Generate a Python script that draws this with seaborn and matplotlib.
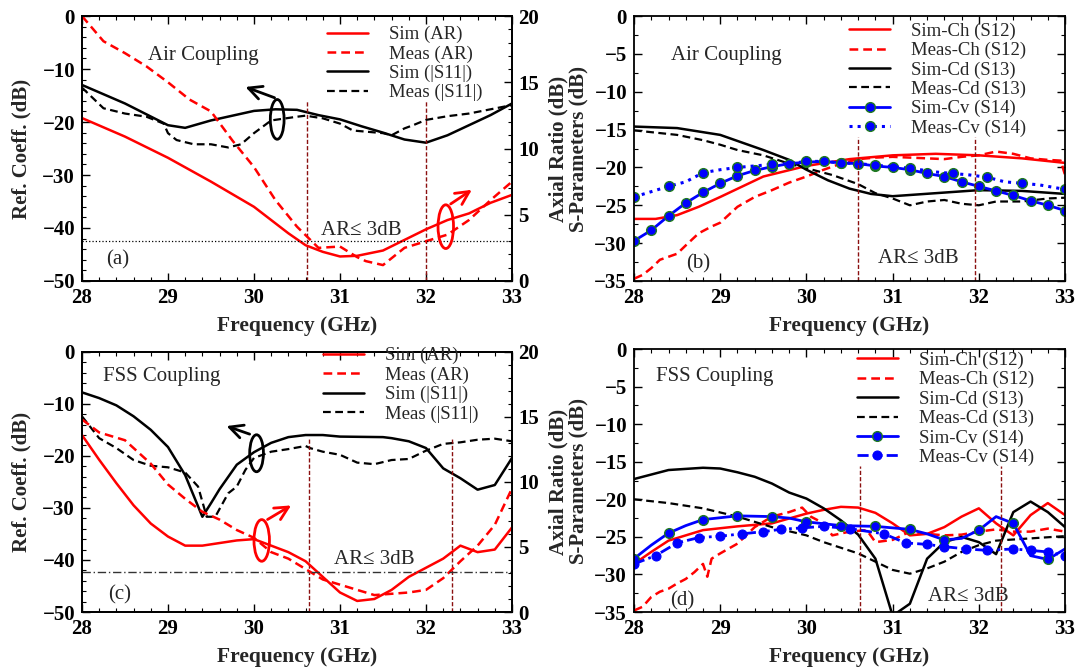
import matplotlib
matplotlib.use("Agg")
import matplotlib.pyplot as plt
from matplotlib.patches import Ellipse
from matplotlib.ticker import MultipleLocator
import seaborn as sns

# ---------------- panel (a): air coupling, |S11| (left) and AR (right)
a_sim_ar_f = [28, 28.5, 29, 29.5, 30, 30.2, 30.4, 30.6, 30.8, 31, 31.2, 31.5, 31.75, 32, 32.25, 32.5, 32.75, 33]
a_sim_ar = [12.3, 10.9, 9.3, 7.5, 5.6, 4.6, 3.6, 2.7, 2.2, 1.85, 1.9, 2.3, 3.1, 3.9, 4.6, 5.1, 5.9, 6.5]
a_meas_ar_f = [28, 28.25, 28.5, 28.75, 29, 29.25, 29.5, 29.75, 30, 30.25, 30.5, 30.75, 31, 31.2, 31.3,
               31.5, 31.75, 32, 32.25, 32.5, 32.75, 33]
a_meas_ar = [20, 18.1, 17.2, 16.2, 15, 13.7, 12.8, 10.6, 8.6, 6.1, 4.1, 2.5, 2.6, 1.8, 1.5,
             1.2, 2.5, 3.0, 3.5, 4.6, 6.1, 7.5]
a_sim_s11_f = [28, 28.5, 29, 29.2, 29.5, 30, 30.25, 30.5, 30.75, 31, 31.25, 31.5, 31.75, 32, 32.25, 32.5, 32.75, 33]
a_sim_s11 = [-13.0, -16.5, -20.6, -21.1, -19.7, -17.9, -17.6, -17.7, -18.7, -19.5, -20.8, -22.0, -23.3, -23.9,
             -22.5, -20.6, -18.7, -16.5]
a_meas_s11_f = [28, 28.25, 28.5, 28.75, 28.95, 29.0, 29.1, 29.3, 29.5, 29.7, 29.85, 30, 30.2, 30.5, 30.6, 30.8,
                31, 31.15, 31.5, 31.6, 31.75, 31.85, 32, 32.25, 32.5, 32.75, 33]
a_meas_s11 = [-13.5, -17.4, -18.4, -19.0, -20.3, -22.1, -23.4, -24.2, -24.2, -24.8, -24.2, -22.1, -19.7, -19.0,
              -18.8, -19.3, -20.3, -21.6, -22.1, -22.5, -21.2, -20.6, -19.6, -18.9, -18.4, -17.6, -16.8]
a_band = [30.62, 32.0]

# ---------------- panel (b): air coupling, isolation
b_sim_ch_f = [28, 28.25, 28.5, 28.75, 29, 29.5, 30, 30.5, 31, 31.5, 32, 32.5, 33]
b_sim_ch = [-26.8, -26.8, -26.3, -25.2, -23.9, -21.2, -19.8, -18.9, -18.4, -18.2, -18.4, -18.8, -19.4]
b_meas_ch_f = [28, 28.1, 28.2, 28.3, 28.4, 28.5, 28.6, 28.75, 28.9, 29, 29.2, 29.4, 29.6, 29.8, 30, 30.2, 30.4,
               30.6, 30.8, 31, 31.2, 31.4, 31.6, 31.8, 32, 32.2, 32.4, 32.6, 32.8, 32.95, 33]
b_meas_ch = [-34.7, -34.2, -33.3, -32.2, -31.8, -31.4, -30.3, -28.7, -27.8, -27.3, -25.2, -23.9, -23.0, -22.0,
             -21.2, -20.3, -19.5, -18.9, -18.7, -18.6, -18.7, -18.8, -18.9, -18.6, -18.4, -17.9, -18.2, -18.8,
             -19.0, -19.1, -21.0]
b_sim_cd_f = [28, 28.5, 29, 29.5, 29.8, 30, 30.25, 30.5, 30.75, 31, 31.5, 32, 32.5, 33]
b_sim_cd = [-14.6, -14.8, -15.7, -17.7, -19.0, -20.3, -21.7, -22.8, -23.5, -23.8, -23.4, -23.0, -23.1, -23.5]
b_meas_cd_f = [28, 28.5, 28.8, 29, 29.2, 29.5, 29.8, 30, 30.3, 30.6, 30.8, 31, 31.2, 31.4, 31.6, 31.8, 32, 32.2,
               32.5, 32.8, 33]
b_meas_cd = [-15.1, -15.7, -16.4, -17.0, -17.7, -18.4, -19.5, -20.1, -21.0, -22.2, -23.4, -24.1, -25.0, -24.5,
             -24.3, -24.8, -25.0, -24.5, -24.5, -24.1, -24.0]
b_sim_cv_f = [28, 28.2, 28.4, 28.6, 28.8, 29.0, 29.2, 29.4, 29.6, 29.8, 30.0, 30.2, 30.4, 30.6, 30.8, 31.0,
              31.2, 31.4, 31.6, 31.8, 32.0, 32.2, 32.4, 32.6, 32.8, 33.0]
b_sim_cv = [-29.7, -28.3, -26.4, -24.7, -23.3, -22.1, -21.1, -20.4, -19.9, -19.5, -19.3, -19.2, -19.4, -19.5,
            -19.8, -20.0, -20.3, -20.8, -21.2, -21.9, -22.5, -23.1, -23.7, -24.4, -25.0, -25.7]
b_meas_cv_f = [28, 28.2, 28.4, 28.6, 28.8, 29.0, 29.2, 29.4, 29.6, 29.8, 30, 30.2, 30.4, 30.6, 30.8, 31.0, 31.2,
               31.5, 31.7, 31.9, 32.1, 32.3, 32.5, 32.7, 33]
b_meas_cv = [-23.9, -23.2, -22.5, -21.9, -20.7, -20.3, -20.0, -19.8, -19.6, -19.5, -19.2, -19.2, -19.4, -19.5,
             -19.7, -19.9, -20.1, -20.6, -20.8, -21.0, -21.3, -21.9, -22.1, -22.3, -22.9]
b_band = [30.6, 31.96]

# ---------------- panel (c): FSS coupling, |S11| and AR
c_sim_ar_f = [28, 28.2, 28.4, 28.6, 28.8, 29, 29.2, 29.4, 29.6, 29.8, 30, 30.2, 30.4, 30.6, 30.8, 31, 31.2,
              31.4, 31.6, 31.8, 32, 32.2, 32.4, 32.6, 32.8, 33]
c_sim_ar = [13.6, 11.7, 9.9, 8.2, 6.8, 5.8, 5.1, 5.1, 5.3, 5.5, 5.6, 5.1, 4.6, 3.9, 2.7, 1.5, 0.85, 1.0, 1.7,
            2.7, 3.4, 4.1, 5.1, 4.6, 4.8, 6.5]
c_meas_ar_f = [28, 28.2, 28.5, 28.8, 29, 29.2, 29.4, 29.6, 29.8, 30, 30.2, 30.4, 30.6, 30.8, 31, 31.2, 31.4,
               31.6, 31.8, 32, 32.2, 32.4, 32.6, 32.8, 33]
c_meas_ar = [14.8, 13.8, 13.2, 11.4, 9.8, 8.7, 7.7, 7.1, 6.3, 5.7, 4.6, 4.1, 3.3, 2.5, 2.1, 1.7, 1.3, 1.4, 1.5,
             1.7, 2.6, 3.9, 5.1, 6.7, 9.5]
c_sim_s11_f = [28, 28.2, 28.4, 28.6, 28.8, 29, 29.2, 29.4, 29.5, 29.6, 29.8, 30, 30.2, 30.4, 30.6, 30.8, 31,
               31.5, 31.6, 31.8, 32, 32.2, 32.4, 32.6, 32.8, 33]
c_sim_s11 = [-7.8, -8.9, -10.3, -12.4, -15.0, -18.3, -23.7, -31.7, -29.1, -26.4, -21.7, -19.3, -17.5, -16.4,
             -16.0, -16.0, -16.3, -16.4, -16.6, -17.2, -18.5, -22.4, -24.3, -26.5, -25.6, -20.4]
c_meas_s11_f = [28, 28.2, 28.4, 28.6, 28.8, 29, 29.2, 29.35, 29.45, 29.55, 29.7, 29.8, 29.9, 30, 30.2, 30.4,
                30.6, 30.65, 30.8, 31, 31.2, 31.4, 31.6, 31.8, 32, 32.2, 32.4, 32.6, 32.8, 33]
c_meas_s11 = [-12.4, -16.6, -18.5, -20.8, -21.9, -22.2, -23.2, -25.9, -31.7, -31.7, -27.2, -25.9, -22.7, -20.4,
              -19.2, -18.7, -18.1, -18.5, -19.2, -19.8, -21.3, -21.6, -20.8, -20.6, -19.0, -17.7, -17.4, -16.9,
              -16.7, -17.2]
c_band = [30.64, 32.3]

# ---------------- panel (d): FSS coupling, isolation
d_sim_ch_f = [28, 28.2, 28.4, 28.8, 29.2, 29.6, 30, 30.2, 30.4, 30.6, 30.8, 31, 31.2, 31.4, 31.6, 31.8, 32,
              32.2, 32.4, 32.6, 32.8, 33]
d_sim_ch = [-28.6, -27.0, -25.5, -24.1, -23.6, -23.2, -21.9, -21.4, -21.0, -21.1, -21.8, -23.2, -24.8, -24.6,
            -23.7, -22.3, -21.2, -23.2, -24.8, -22.1, -20.5, -22.1]
d_meas_ch_f = [28, 28.1, 28.2, 28.3, 28.4, 28.5, 28.6, 28.7, 28.8, 28.85, 28.9, 29, 29.2, 29.4, 29.6, 29.8,
               29.95, 30.05, 30.2, 30.3, 30.5, 30.7, 30.8, 31, 31.2, 31.4, 31.6, 31.8, 32, 32.2, 32.4, 32.6,
               32.8, 33]
d_meas_ch = [-34.8, -34.3, -33.0, -32.3, -31.9, -31.2, -30.6, -29.7, -28.6, -30.3, -27.9, -27.2, -25.9, -23.7,
             -22.3, -21.7, -21.1, -22.3, -23.2, -24.8, -24.3, -24.1, -25.7, -25.4, -24.3, -24.6, -24.8, -24.7,
             -24.3, -24.0, -24.3, -24.3, -23.9, -24.3]
d_sim_cd_f = [28, 28.4, 28.8, 29, 29.2, 29.4, 29.6, 29.8, 30, 30.2, 30.4, 30.6, 30.8, 31, 31.2, 31.4, 31.6,
              31.8, 32, 32.2, 32.4, 32.6, 32.8, 33]
d_sim_cd = [-17.3, -16.1, -15.8, -15.9, -16.4, -17.0, -17.9, -19.1, -19.9, -21.2, -22.8, -24.7, -27.9, -35.5,
            -33.9, -27.9, -25.7, -25.0, -25.7, -27.3, -21.7, -20.3, -21.7, -23.7]
d_meas_cd_f = [28, 28.4, 28.8, 29.2, 29.6, 30, 30.2, 30.6, 30.8, 31, 31.2, 31.4, 31.6, 31.8, 32, 32.2, 32.6, 33]
d_meas_cd = [-20.0, -20.5, -21.2, -22.3, -23.7, -24.8, -25.7, -27.2, -28.3, -29.4, -29.9, -29.2, -28.3, -27.0,
             -26.1, -25.5, -25.2, -24.9]
d_sim_cv_f = [28, 28.2, 28.4, 28.6, 28.8, 29.2, 29.6, 29.8, 30, 30.4, 30.8, 31.2, 31.4, 31.6, 31.8, 32, 32.2,
              32.4, 32.6, 32.8, 33]
d_sim_cv = [-27.9, -26.1, -24.5, -23.5, -22.7, -22.2, -22.3, -22.5, -23.0, -23.5, -23.6, -24.0, -24.6, -25.4,
            -25.2, -24.1, -22.3, -23.2, -27.5, -28.0, -26.6]
d_meas_cv_f = [28, 28.25, 28.5, 28.75, 29, 29.25, 29.5, 29.7, 29.95, 30.2, 30.5, 30.9, 31.15, 31.4, 31.6, 31.85,
               32.1, 32.4, 32.6, 32.8, 33]
d_meas_cv = [-28.6, -27.5, -25.8, -25.1, -24.9, -24.6, -24.3, -24.0, -23.8, -23.6, -23.9, -24.6, -25.8, -26.0,
             -26.3, -26.6, -26.8, -26.6, -26.8, -27.0, -27.5]
d_band = [30.62, 32.26]

sns.set_theme(style="ticks")
plt.rcParams["font.family"] = ["Liberation Serif", "DejaVu Serif"]
plt.rcParams["axes.linewidth"] = 1.3
plt.rcParams["axes.edgecolor"] = "black"

RED, BLUE, DARKRED = "#ff0000", "#0000ff", "#8b1010"
MEDGE = "#1f7a1f"
TICK_FS, LAB_FS, TXT_FS = 15, 15, 15

fig = plt.figure(figsize=(10.77, 6.69), dpi=100)
ax_a = fig.add_axes([0.0761, 0.580, 0.3993, 0.396])
ax_b = fig.add_axes([0.5887, 0.580, 0.4002, 0.396])
ax_c = fig.add_axes([0.0761, 0.0852, 0.3993, 0.3890])
ax_d = fig.add_axes([0.5887, 0.0852, 0.4002, 0.3930])


def style(ax, ylo, major, minor, right=True):
    ax.set_xlim(28, 33)
    ax.set_ylim(ylo, 0)
    ax.xaxis.set_major_locator(MultipleLocator(1))
    ax.xaxis.set_minor_locator(MultipleLocator(0.2))
    ax.yaxis.set_major_locator(MultipleLocator(major))
    ax.yaxis.set_minor_locator(MultipleLocator(minor))
    ax.tick_params(which="both", direction="in", top=True, right=right, colors="black", labelsize=TICK_FS)
    ax.tick_params(axis="x", pad=5)
    ax.tick_params(axis="y", pad=5)
    ax.tick_params(which="major", length=6, width=1)
    ax.tick_params(which="minor", length=3, width=0.8)
    for lbl in ax.get_xticklabels() + ax.get_yticklabels():
        lbl.set_fontweight("bold")
    ax.set_xlabel("Frequency (GHz)", fontsize=LAB_FS + 0.5, fontweight="bold", labelpad=6)
    for s in ax.spines.values():
        s.set_visible(True)


def ar_axis(ax):
    tw = ax.twinx()
    tw.set_ylim(0, 20)
    tw.yaxis.set_major_locator(MultipleLocator(5))
    tw.yaxis.set_minor_locator(MultipleLocator(1))
    tw.tick_params(which="both", direction="in", labelsize=TICK_FS, colors="black", pad=4.5)
    tw.tick_params(which="major", length=6, width=1)
    tw.tick_params(which="minor", length=3, width=0.8)
    for lbl in tw.get_yticklabels():
        lbl.set_fontweight("bold")
    tw.set_ylabel("Axial Ratio (dB)", fontsize=LAB_FS, fontweight="bold", labelpad=7)
    return tw


def line(ax, f, v, label, color, ls, lw=1.8, **kw):
    sns.lineplot(x=f, y=v, ax=ax, color=color, linestyle=ls, linewidth=lw, label=label,
                 legend=False, sort=False, **kw)


def ring(ax, xy, w, h, color, start, end):
    ax.add_patch(Ellipse(xy, w, h, fill=False, edgecolor=color, lw=2, zorder=5))
    ax.annotate("", xy=end, xytext=start,
                arrowprops=dict(arrowstyle="->", color=color, lw=2, mutation_scale=24), zorder=5)


def legend(ax, handles, x, y):
    ax.legend(handles=handles, loc="upper left", bbox_to_anchor=(x, y), frameon=False,
              prop={"family": "Liberation Serif", "size": 13.5}, handlelength=2.2, handletextpad=1.1,
              labelspacing=0.11, borderpad=0, borderaxespad=0)


# ---- (a)
style(ax_a, -50, 10, 2, right=False)
ax_a.set_ylabel("Ref. Coeff. (dB)", fontsize=LAB_FS, fontweight="bold", labelpad=8)
tw_a = ar_axis(ax_a)
line(tw_a, a_sim_ar_f, a_sim_ar, "Sim (AR)", RED, "-")
line(tw_a, a_meas_ar_f, a_meas_ar, "Meas (AR)", RED, (0, (3.5, 2)))
line(ax_a, a_sim_s11_f, a_sim_s11, "Sim (|S11|)", "black", "-")
line(ax_a, a_meas_s11_f, a_meas_s11, "Meas (|S11|)", "black", (0, (3.5, 2)), lw=1.6)
tw_a.axhline(3, color="black", ls=":", lw=0.9)
ax_a.vlines(a_band, -50, -16, colors=DARKRED, linestyles=(0, (3, 1.5)), lw=1)
legend(tw_a, tw_a.lines[:2] + ax_a.lines[:2], 0.57, 0.963)
ax_a.text(28.77, -7.4, "Air Coupling", fontsize=TXT_FS, va="center")
ax_a.text(31.25, -40.5, "AR≤ 3dB", fontsize=TXT_FS, ha="center", va="center")
ax_a.text(28.28, -46, "(a)", fontsize=TXT_FS, va="center")
ring(ax_a, (30.27, -19.5), 0.16, 7.5, "black", (30.27, -15.6), (29.87, -13.2))
ring(tw_a, (32.23, 4.1), 0.18, 3.3, RED, (32.26, 5.7), (32.56, 7.0))

# ---- (b)
style(ax_b, -35, 5, 2.5)
ax_b.set_ylabel("S-Parameters (dB)", fontsize=LAB_FS, fontweight="bold", labelpad=4)
line(ax_b, b_sim_ch_f, b_sim_ch, "Sim-Ch (S12)", RED, "-")
line(ax_b, b_meas_ch_f, b_meas_ch, "Meas-Ch (S12)", RED, (0, (3.5, 2)))
line(ax_b, b_sim_cd_f, b_sim_cd, "Sim-Cd (S13)", "black", "-")
line(ax_b, b_meas_cd_f, b_meas_cd, "Meas-Cd (S13)", "black", (0, (3.5, 2)), lw=1.6)
line(ax_b, b_sim_cv_f, b_sim_cv, "Sim-Cv (S14)", BLUE, "-", lw=2, marker="o", markersize=7,
     markerfacecolor=BLUE, markeredgecolor=MEDGE, markeredgewidth=1)
line(ax_b, b_meas_cv_f, b_meas_cv, "Meas-Cv (S14)", BLUE, ":", lw=2.2, marker="o", markersize=7,
     markerfacecolor=BLUE, markeredgecolor=MEDGE, markeredgewidth=1, markevery=2)
ax_b.vlines(b_band, -35, -16, colors=DARKRED, linestyles=(0, (3, 1.5)), lw=1)
legend(ax_b, ax_b.lines[:6], 0.499, 0.975)
ax_b.text(28.43, -5.15, "Air Coupling", fontsize=TXT_FS, va="center")
ax_b.text(31.3, -32, "AR≤ 3dB", fontsize=TXT_FS, ha="center", va="center")
ax_b.text(28.6, -32.7, "(b)", fontsize=TXT_FS, va="center")

# ---- (c)
style(ax_c, -50, 10, 2, right=False)
ax_c.set_ylabel("Ref. Coeff. (dB)", fontsize=LAB_FS, fontweight="bold", labelpad=8)
tw_c = ar_axis(ax_c)
line(tw_c, c_sim_ar_f, c_sim_ar, "Sim (AR)", RED, "-")
line(tw_c, c_meas_ar_f, c_meas_ar, "Meas (AR)", RED, (0, (3.5, 2)))
line(ax_c, c_sim_s11_f, c_sim_s11, "Sim (|S11|)", "black", "-")
line(ax_c, c_meas_s11_f, c_meas_s11, "Meas (|S11|)", "black", (0, (3.5, 2)), lw=1.6)
tw_c.axhline(3.1, color="#333333", ls=(0, (6, 2, 1, 2)), lw=1)
ax_c.vlines(c_band, -50, -16.5, colors=DARKRED, linestyles=(0, (3, 1.5)), lw=1)
legend(tw_c, tw_c.lines[:2] + ax_c.lines[:2], 0.56, 1.018)
ax_c.text(28.25, -4.7, "FSS Coupling", fontsize=TXT_FS, va="center")
ax_c.text(31.4, -39.9, "AR≤ 3dB", fontsize=TXT_FS, ha="center", va="center")
ax_c.text(28.3, -46.8, "(c)", fontsize=TXT_FS, va="center")
ring(ax_c, (30.03, -19.5), 0.16, 7.1, "black", (29.98, -16.0), (29.65, -14.1))
ring(tw_c, (30.09, 5.5), 0.18, 3.2, RED, (30.13, 7.0), (30.46, 8.3))

# ---- (d)
style(ax_d, -35, 5, 2.5)
ax_d.set_ylabel("S-Parameters (dB)", fontsize=LAB_FS, fontweight="bold", labelpad=4)
line(ax_d, d_sim_ch_f, d_sim_ch, "Sim-Ch (S12)", RED, "-")
line(ax_d, d_meas_ch_f, d_meas_ch, "Meas-Ch (S12)", RED, (0, (3.5, 2)))
line(ax_d, d_sim_cd_f, d_sim_cd, "Sim-Cd (S13)", "black", "-")
line(ax_d, d_meas_cd_f, d_meas_cd, "Meas-Cd (S13)", "black", (0, (3.5, 2)), lw=1.6)
line(ax_d, d_sim_cv_f, d_sim_cv, "Sim-Cv (S14)", BLUE, "-", lw=2, marker="o", markersize=7,
     markerfacecolor=BLUE, markeredgecolor=MEDGE, markeredgewidth=1,
     markevery=[0, 2, 4, 5, 6, 8, 9, 10, 11, 13, 15, 17, 19])
line(ax_d, d_meas_cv_f, d_meas_cv, "Meas-Cv (S14)", BLUE, (0, (4, 1.5, 1, 1.5, 1, 1.5)), lw=2,
     marker="o", markersize=6.5, markerfacecolor=BLUE, markeredgecolor=BLUE)
ax_d.vlines(d_band, -35, -15.5, colors=DARKRED, linestyles=(0, (3, 1.5)), lw=1)
legend(ax_d, ax_d.lines[:6], 0.517, 0.99)
ax_d.text(28.26, -3.7, "FSS Coupling", fontsize=TXT_FS, va="center")
ax_d.text(31.88, -33.0, "AR≤ 3dB", fontsize=TXT_FS, ha="center", va="center")
ax_d.text(28.42, -33.5, "(d)", fontsize=TXT_FS, va="center")

fig.savefig("out.png", dpi=100)
